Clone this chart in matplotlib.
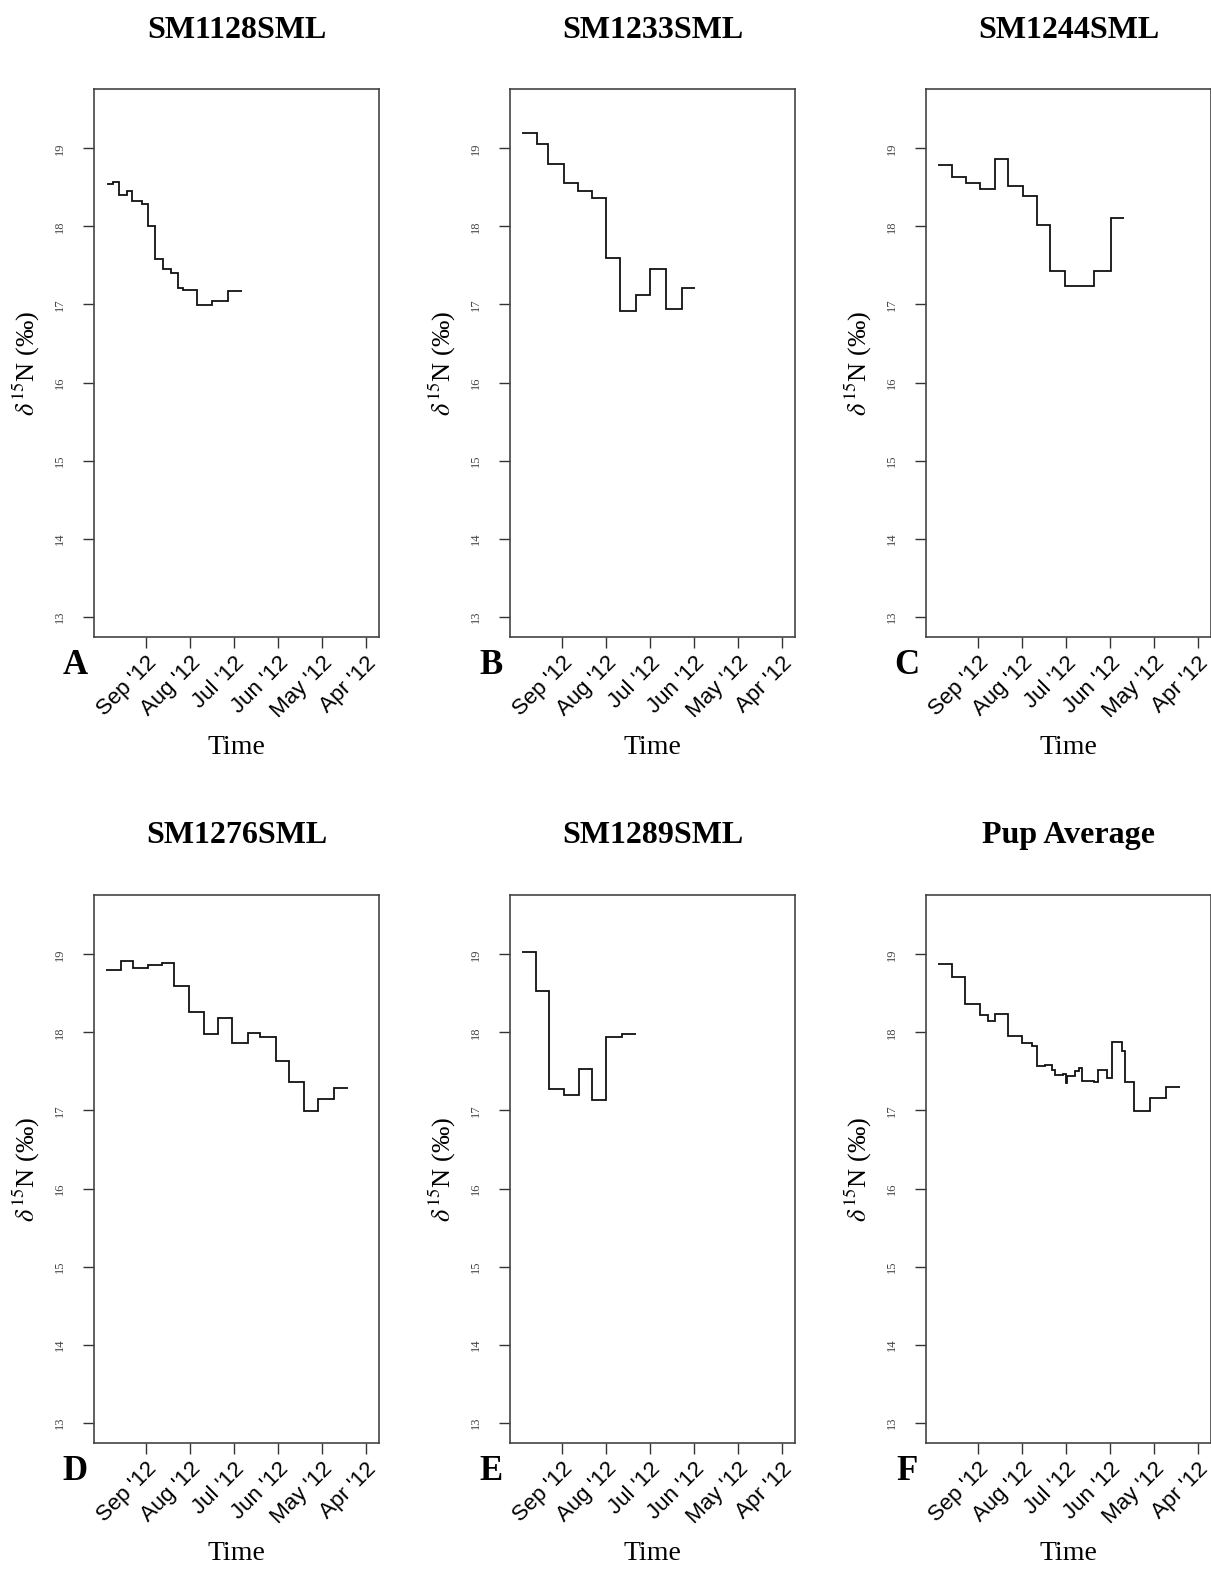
import matplotlib
matplotlib.use("Agg")
import matplotlib.pyplot as plt

plt.rcParams['mathtext.fontset'] = 'stix'
plt.rcParams['font.family'] = ['Liberation Serif', 'DejaVu Serif']

# x is in months, Sep '12 = 0 ... Apr '12 = 5 (axis as drawn in the source)
month_labels = ["Sep '12", "Aug '12", "Jul '12", "Jun '12", "May '12", "Apr '12"]
month_ticks = [0, 1, 2, 3, 4, 5]

titles = ["SM1128SML", "SM1233SML", "SM1244SML", "SM1276SML", "SM1289SML", "Pup Average"]
letters = ["A", "B", "C", "D", "E", "F"]

a_edges = [-0.893, -0.757, -0.614, -0.425, -0.325, -0.098, 0.039, 0.205, 0.380,
           0.568, 0.720, 0.848, 1.166, 1.493, 1.870, 2.189]
a_vals = [18.54, 18.57, 18.40, 18.45, 18.33, 18.29, 18.01, 17.58, 17.45,
          17.40, 17.21, 17.18, 16.99, 17.05, 17.17]

b_edges = [-0.902, -0.575, -0.311, 0.052, 0.370, 0.689, 1.000, 1.318, 1.675,
           2.000, 2.364, 2.720, 3.023]
b_vals = [19.19, 19.05, 18.80, 18.56, 18.45, 18.36, 17.59, 16.91, 17.12,
          17.46, 16.94, 17.21]

c_edges = [-0.902, -0.584, -0.280, 0.045, 0.386, 0.689, 1.016, 1.334, 1.636,
           1.977, 2.636, 3.016, 3.318]
c_vals = [18.79, 18.63, 18.56, 18.48, 18.86, 18.52, 18.39, 18.02, 17.43,
          17.23, 17.43, 18.11]

d_edges = [-0.909, -0.568, -0.289, 0.039, 0.357, 0.643, 0.977, 1.325, 1.643,
           1.961, 2.311, 2.591, 2.955, 3.257, 3.591, 3.902, 4.280, 4.598]
d_vals = [18.80, 18.92, 18.82, 18.86, 18.89, 18.59, 18.26, 17.98, 18.18,
          17.87, 17.99, 17.94, 17.63, 17.36, 16.99, 17.15, 17.29]

e_edges = [-0.902, -0.591, -0.295, 0.045, 0.386, 0.689, 1.000, 1.357, 1.682]
e_vals = [19.03, 18.53, 17.27, 17.20, 17.53, 17.14, 17.94, 17.98]

f_edges = [-0.902, -0.598, -0.295, 0.045, 0.234, 0.386, 0.689, 0.993, 1.220,
           1.348, 1.523, 1.675, 1.750, 1.939, 1.993, 2.030, 2.205, 2.302,
           2.370, 2.636, 2.734, 2.939, 3.052, 3.266, 3.341, 3.552, 3.909,
           4.273, 4.591]
f_vals = [18.88, 18.71, 18.36, 18.22, 18.14, 18.23, 17.96, 17.86, 17.83,
          17.57, 17.58, 17.52, 17.45, 17.47, 17.35, 17.44, 17.50, 17.54,
          17.38, 17.37, 17.52, 17.42, 17.88, 17.76, 17.36, 16.99, 17.16,
          17.30]

series = [(a_edges, a_vals), (b_edges, b_vals), (c_edges, c_vals),
          (d_edges, d_vals), (e_edges, e_vals), (f_edges, f_vals)]

W, H = 1211, 1572
fig = plt.figure(figsize=(W / 100, H / 100), dpi=100)

lefts = [94, 510, 926]
rows = [(89, 637), (895, 1443)]
ax_w = 285

for i, (edges, vals) in enumerate(series):
    r, c = divmod(i, 3)
    top, bottom = rows[r]
    ax_h = bottom - top
    ax = fig.add_axes([lefts[c] / W, 1 - bottom / H, ax_w / W, ax_h / H])
    ax.stairs(vals, edges, baseline=None, color='#111111', lw=1.3)

    ax.set_xlim(-1.18, 5.30)
    ax.set_ylim(12.74, 19.76)
    ax.set_yticks(range(13, 20))
    ax.set_yticklabels([str(v) for v in range(13, 20)], rotation=90,
                       va='center', fontsize=9, color='#444444')
    ax.set_xticks(month_ticks)
    ax.set_xticklabels(month_labels, rotation=45, ha='right', va='top',
                       rotation_mode='anchor', fontsize=16,
                       family=['Liberation Sans', 'DejaVu Sans'])
    ax.tick_params(axis='both', length=8, width=1, color='#333333', pad=3)
    ax.tick_params(axis='y', pad=12)
    for s in ax.spines.values():
        s.set_color('#444444')
        s.set_linewidth(1.2)

    ax.set_ylabel(r'$\delta^{15}$N (‰)', fontsize=19)
    ax.yaxis.set_label_coords(-0.182, 0.5)
    ax.set_xlabel('Time', fontsize=20)
    ax.xaxis.set_label_coords(0.5, -110 / ax_h)
    ax.xaxis.label.set_va('center')

    ax.text(0.5, 1 + 59 / ax_h, titles[i], transform=ax.transAxes,
            ha='center', va='center', fontsize=23, fontweight='bold')
    ax.text(-0.067, -28 / ax_h, letters[i], transform=ax.transAxes,
            ha='center', va='center', fontsize=25, fontweight='bold')

fig.savefig('out.png', dpi=100, facecolor='white')
